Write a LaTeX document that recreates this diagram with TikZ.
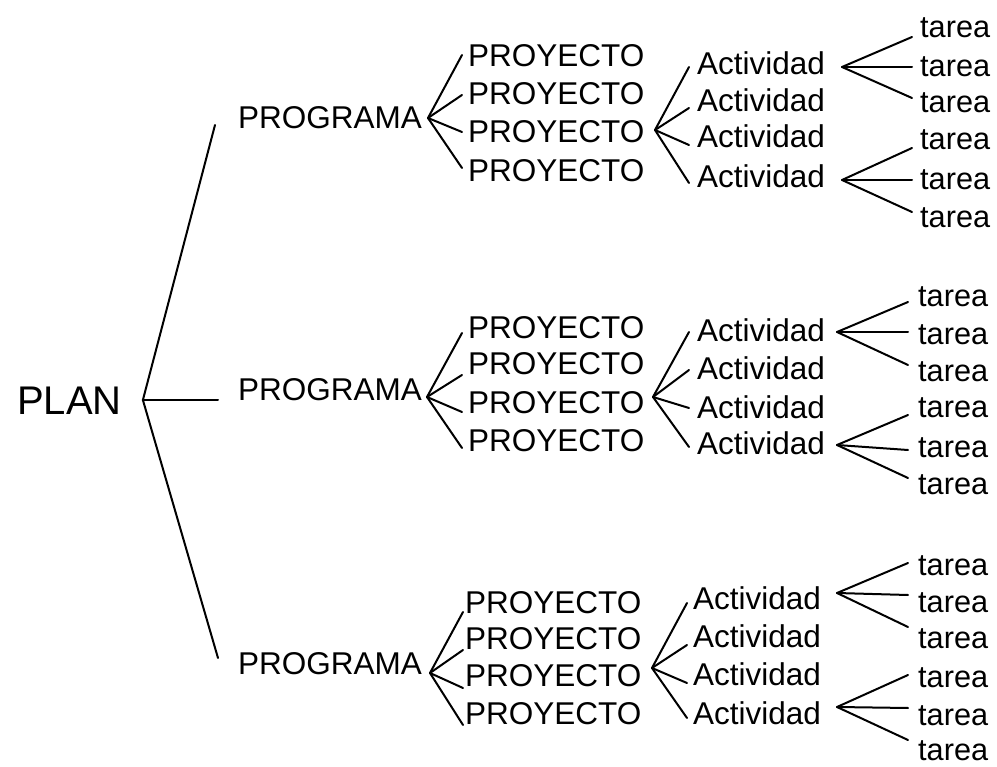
\documentclass[tikz,border=0pt]{standalone}
\usepackage{fontspec}
\setmainfont{Liberation Sans}
\begin{document}
\begin{tikzpicture}[x=1pt,y=-1pt,
  conn/.style={line width=2pt, line cap=round},
  txt/.style={inner sep=0pt, anchor=west, text height=22.6pt, text depth=0pt, font=\fontsize{31.5}{36}\selectfont},
  tsk/.style={txt, text height=22pt, font=\fontsize{30.7}{36}\selectfont},
  planlbl/.style={txt, text height=28.8pt, font=\fontsize{40}{46}\selectfont}]
\useasboundingbox (0,0) rectangle (997,767);

% PLAN
\node[planlbl] (plan) at (17,400) {PLAN};
\coordinate (pf) at ([xshift=21pt]plan.east);
\node[txt] (gA) at (238,117) {PROGRAMA};
\node[txt] (gB) at (238,389) {PROGRAMA};
\node[txt] (gC) at (238,663) {PROGRAMA};
\draw[conn] (pf) -- ([shift={(-23,8)}]gA.west);
\draw[conn] (pf) -- ([shift={(-20,11)}]gB.west);
\draw[conn] (pf) -- ([shift={(-20,-5)}]gC.west);

% ---------- group A (top)
\coordinate (pfA) at (428,118);
\foreach \y/\d [count=\i] in {55/0,93/2,131/1,170/-2} {
  \node[txt] (yA\i) at (468,\y) {PROYECTO};
  \draw[conn] (pfA) -- ([shift={(-6,\d)}]yA\i.west);
}
\coordinate (afA) at (655,130);
\foreach \y/\d [count=\i] in {63/4,100/8,136/9,176/7} {
  \node[txt] (aA\i) at (697,\y) {Actividad};
  \draw[conn] (afA) -- ([shift={(-8,\d)}]aA\i.west);
}
\coordinate (tfA1) at (842,67);
\coordinate (tfA2) at (842,180);
\foreach \y/\d/\f [count=\i] in {27/10/1,66/1/1,102/-4/1,139/9/2,179/1/2,217/-5/2} {
  \node[tsk] (tA\i) at (920,\y) {tarea};
  \draw[conn] (tfA\f) -- ([shift={(-8,\d)}]tA\i.west);
}

% ---------- group B (middle)
\coordinate (pfB) at (427,397);
\foreach \y/\d [count=\i] in {327/6,363/12,402/10,440/8} {
  \node[txt] (yB\i) at (468,\y) {PROYECTO};
  \draw[conn] (pfB) -- ([shift={(-6,\d)}]yB\i.west);
}
\coordinate (afB) at (653,397);
\foreach \y/\d [count=\i] in {330/2,368/2,407/1,443/4} {
  \node[txt] (aB\i) at (697,\y) {Actividad};
  \draw[conn] (afB) -- ([shift={(-8,\d)}]aB\i.west);
}
\coordinate (tfB1) at (837,332);
\coordinate (tfB2) at (837,445);
\foreach \y/\d/\f [count=\i] in {296/6/1,334/-2/1,371/-6/1,407/8/2,446/4/2,484/-6/2} {
  \node[tsk] (tB\i) at (918,\y) {tarea};
  \draw[conn] (tfB\f) -- ([shift={(-10,\d)}]tB\i.west);
}

% ---------- group C (bottom)
\coordinate (pfC) at (430,673);
\foreach \y/\d [count=\i] in {602/10,638/12,675/13,713/12} {
  \node[txt] (yC\i) at (465,\y) {PROYECTO};
  \draw[conn] (pfC) -- ([shift={(-2,\d)}]yC\i.west);
}
\coordinate (afC) at (652,668);
\foreach \y/\d [count=\i] in {598/5,636/9,674/9,713/5} {
  \node[txt] (aC\i) at (693,\y) {Actividad};
  \draw[conn] (afC) -- ([shift={(-6,\d)}]aC\i.west);
}
\coordinate (tfC1) at (837,593);
\coordinate (tfC2) at (837,707);
\foreach \y/\d/\f [count=\i] in {564/-1/1,601/-6/1,637/-10/1,676/-1/2,714/-6/2,749/-9/2} {
  \node[tsk] (tC\i) at (918,\y) {tarea};
  \draw[conn] (tfC\f) -- ([shift={(-10,\d)}]tC\i.west);
}
\end{tikzpicture}
\end{document}
